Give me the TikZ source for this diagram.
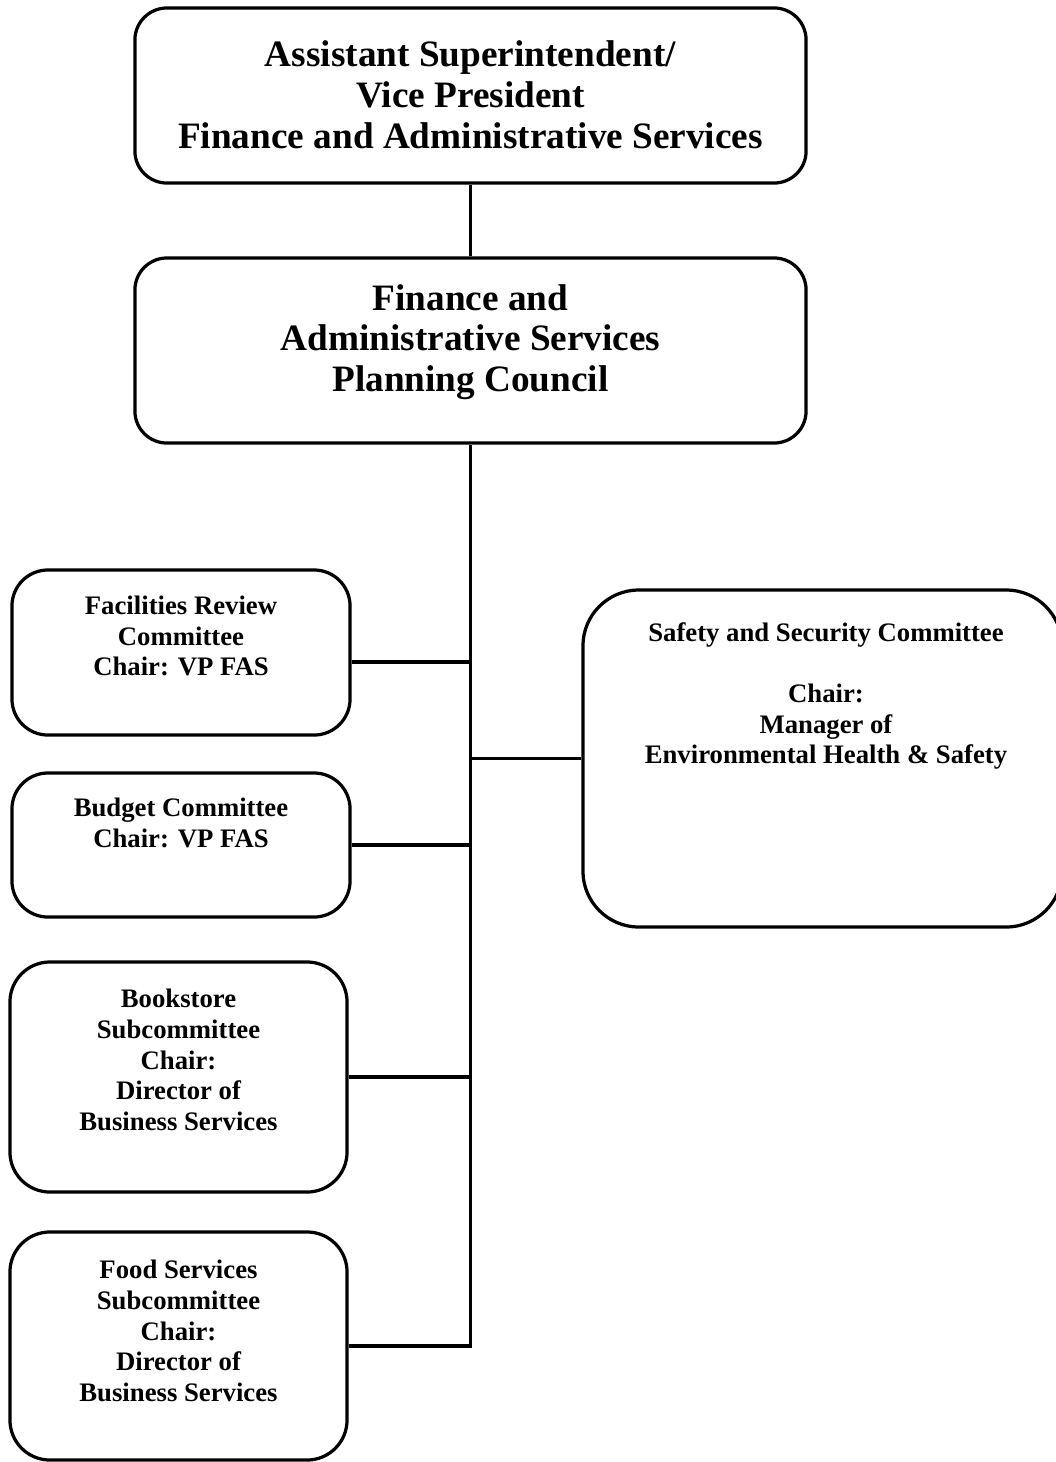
\documentclass[tikz,border=0pt]{standalone}
\usepackage{fontspec}
\setmainfont{Liberation Serif}
\usetikzlibrary{positioning,calc}
\tikzset{
  org/.style={font=\bfseries, text=black},
  orgbox/.style={draw=black, rounded corners=0.8cm, line width=2.3pt, inner sep=0pt},
  orgtxt/.style={align=center, inner sep=0pt},
  orgbig/.style={font=\fontsize{26.5}{29}\selectfont\bfseries},
  orgsmall/.style={font=\fontsize{19}{21.8}\selectfont\bfseries},
  orgline/.style={line width=2.3pt, draw=black},
}

\begin{document}
\begin{tikzpicture}[org, x=0.025cm, y=-0.025cm]
  \useasboundingbox (0,0) rectangle (1056,1462);
  % top of the chart
  \node[orgbox, minimum width=16.775cm, minimum height=4.375cm] (vp) at (470.5,95.5) {};
  \node[orgtxt, orgbig] (vptxt) at (470.5,95) {Assistant Superintendent/\\Vice President\\Finance and Administrative Services};
  \node[orgbox, minimum width=16.775cm, minimum height=4.625cm] (council) at (470.5,350.5) {};
  \node[orgtxt, orgbig] (counciltxt) at (470.5,342) {Finance and\\Administrative Services\\Planning Council};
  % committees
  \node[orgbox, rounded corners=0.9cm, minimum width=8.45cm, minimum height=4.125cm] (fac) at (181,652.5) {};
  \node[orgtxt, orgsmall] (factxt) at (181,636) {Facilities Review\\Committee\\Chair: VP FAS};
  \node[orgbox, rounded corners=0.9cm, minimum width=8.45cm, minimum height=3.6cm] (budget) at (181,845) {};
  \node[orgtxt, orgsmall] (budgettxt) at (181,823) {Budget Committee\\Chair: VP FAS};
  \node[orgbox, rounded corners=1.4cm, minimum width=11.975cm, minimum height=8.425cm] (safety) at (822.5,758.5) {};
  \node[orgtxt, orgsmall] (safetytxt) at (826,696) {Safety and Security Committee\\[21.8pt]Chair:\\Manager of\\Environmental Health \& Safety};
  \node[orgbox, rounded corners=1cm, minimum width=8.425cm, minimum height=5.75cm] (book) at (178.5,1077) {};
  \node[orgtxt, orgsmall] (booktxt) at (178.5,1060) {Bookstore\\Subcommittee\\Chair:\\Director of\\Business Services};
  \node[orgbox, rounded corners=1cm, minimum width=8.425cm, minimum height=5.7cm] (food) at (178.5,1346) {};
  \node[orgtxt, orgsmall] (foodtxt) at (178.5,1331) {Food Services\\Subcommittee\\Chair:\\Director of\\Business Services};
  % connectors
  \coordinate (facjoin) at (470.5,662);
  \draw[orgline] (vp.south) -- (council.north);
  \draw[orgline] (council.south) |- (food.east);
  \draw[orgline] (fac.east |- facjoin) -- (facjoin);
  \draw[orgline] (budget.east) -- (budget.east -| council.south);
  \draw[orgline] (book.east) -- (book.east -| council.south);
  \draw[orgline] (safety.west) -- (safety.west -| council.south);
\end{tikzpicture}
\end{document}
